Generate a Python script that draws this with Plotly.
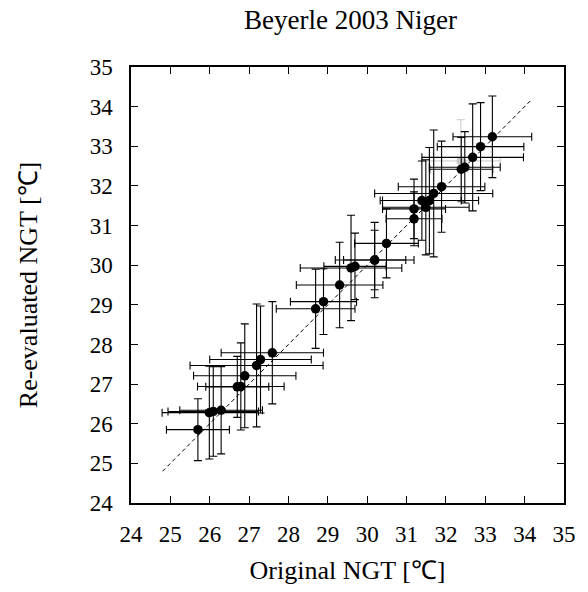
import plotly.graph_objects as go

# Original NGT (x) and re-evaluated NGT (y), with 1-sigma errors
orig = [25.70, 25.99, 26.09, 26.29, 26.70, 26.79, 26.89, 27.19, 27.29, 27.59,
        28.69, 28.89, 29.30, 29.59, 29.69, 30.19, 30.19, 30.49, 31.19, 31.19,
        31.39, 31.49, 31.58, 31.69, 31.89, 32.39, 32.48, 32.68, 32.88, 33.18]
reval = [25.85, 26.28, 26.31, 26.34, 26.93, 26.94, 27.21, 27.47, 27.62, 27.79,
         28.90, 29.08, 29.50, 29.93, 29.97, 30.13, 30.13, 30.55, 31.17, 31.42,
         31.63, 31.46, 31.63, 31.81, 31.98, 32.42, 32.47, 32.72, 32.99, 33.24]
orig_err = [0.80, 1.20, 1.15, 1.05, 0.80, 1.10, 1.30, 1.69, 1.29, 1.30,
            1.00, 0.84, 1.10, 1.29, 0.79, 1.00, 0.79, 0.81, 0.71, 0.80,
            1.00, 1.10, 1.25, 1.50, 1.10, 0.80, 0.90, 1.29, 1.10, 1.00]
reval_err = [0.78, 1.17, 1.13, 1.10, 0.77, 1.10, 1.31, 1.55, 1.35, 1.29,
             1.00, 0.83, 1.08, 1.33, 0.84, 0.95, 0.75, 0.87, 0.68, 0.75,
             1.00, 1.20, 1.34, 1.60, 1.15, 0.80, 0.90, 1.35, 1.11, 1.03]

# one sample drawn in grey
grey_orig = [32.38]
grey_reval = [32.63]
grey_orig_err = [1.00]
grey_reval_err = [1.04]

line_ends = [24.8, 34.2]
ticks = list(range(24, 36))

FONT = "Liberation Serif"

fig = go.Figure()
fig.add_trace(go.Scatter(
    x=line_ends, y=line_ends, mode="lines",
    line=dict(color="black", width=1, dash="4px,3px"),
    hoverinfo="skip", showlegend=False))
fig.add_trace(go.Scatter(
    x=grey_orig, y=grey_reval, mode="markers",
    marker=dict(color="#c8c8c8", size=9),
    error_x=dict(type="data", array=grey_orig_err, color="#c8c8c8", thickness=1, width=4),
    error_y=dict(type="data", array=grey_reval_err, color="#c8c8c8", thickness=1, width=4),
    showlegend=False))
fig.add_trace(go.Scatter(
    x=orig, y=reval, mode="markers",
    marker=dict(color="black", size=9.5),
    error_x=dict(type="data", array=orig_err, color="black", thickness=1.1, width=4),
    error_y=dict(type="data", array=reval_err, color="black", thickness=1.1, width=4),
    showlegend=False))

axis_common = dict(
    range=[24, 35], tickvals=ticks, ticktext=[str(t) for t in ticks],
    ticks="inside", ticklen=7, tickwidth=1, tickcolor="black",
    showline=True, linecolor="black", linewidth=1.5, mirror="ticks",
    showgrid=False, zeroline=False,
    tickfont=dict(family=FONT, size=23, color="black"),
)

fig.update_layout(
    width=588, height=592,
    margin=dict(l=131, r=17, t=67, b=88),
    paper_bgcolor="white", plot_bgcolor="white",
    title=dict(text="Beyerle 2003 Niger", x=0.596, xanchor="center", y=0.967, yanchor="middle",
               font=dict(family=FONT, size=27, color="black")),
    xaxis=dict(**axis_common, ticklabelstandoff=10,
               title=dict(text="Original NGT [℃]", standoff=14,
                          font=dict(family=FONT, size=26, color="black"))),
    yaxis=dict(**axis_common, ticklabelstandoff=12,
               title=dict(text="Re-evaluated NGT [℃]", standoff=45,
                          font=dict(family=FONT, size=26, color="black"))),
)

fig.write_html("out.html")
